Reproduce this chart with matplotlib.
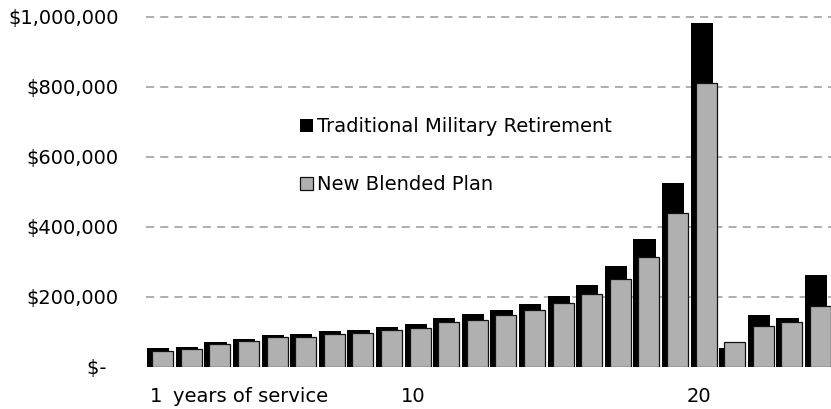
import numpy as np
import matplotlib
matplotlib.use("Agg")
import matplotlib.pyplot as plt
from matplotlib.patches import Patch
from matplotlib.ticker import FuncFormatter

# lump-sum value by year of service, in dollars
years = np.arange(1, 25)
traditional = [52600, 57000, 70600, 79000, 90600, 93000, 102000, 105000,
               113000, 122000, 138000, 150000, 162000, 179000, 203000, 234000,
               288000, 364000, 524000, 983000, 54000, 147000, 138000, 262000]
blended = [45700, 51000, 65000, 73000, 84000, 86000, 93000, 97000,
           105000, 111000, 128000, 133000, 147000, 161000, 182000, 207000,
           251000, 314000, 439000, 810000, 70000, 117000, 129000, 173000]
ytick_vals = [0, 200000, 400000, 600000, 800000, 1000000]
xtick_vals = [1, 10, 20]
xtick_labels = ["1", "10", "20"]
legend_labels = ["Traditional Military Retirement", "New Blended Plan"]

W, H = 831, 409
fig = plt.figure(figsize=(W / 100, H / 100), dpi=100)
ax_left, ax_bottom, ax_top = 146.4, 366.7, 5.0
ax = fig.add_axes([ax_left / W, (H - ax_bottom) / H, (W - ax_left) / W,
                   (ax_bottom - ax_top) / H])

step = 28.6  # px per category
ax.set_xlim(0.5, 0.5 + (W - ax_left) / step)
ax.set_ylim(0, (ax_bottom - ax_top) / 350 * 1e6)

ax.bar(years - 0.084, traditional, width=0.77, color="black",
       linewidth=0, zorder=2)
ax.bar(years + 0.073, blended, width=0.735, color="#b0b0b0",
       edgecolor="#111111", linewidth=0.9, zorder=3)

for v in ytick_vals[1:]:
    ax.axhline(v, color="#999999", linewidth=1.1, dashes=(5.3, 4.0),
               zorder=1)


def money(v, pos):
    if v == 0:
        return "$-  "
    return "${:,.0f}".format(v)


ax.set_yticks(ytick_vals)
ax.yaxis.set_major_formatter(FuncFormatter(money))
# category labels sit a little left of the bar pair
ax.set_xticks(np.array(xtick_vals) - 0.17)
ax.set_xticklabels(xtick_labels)
ax.tick_params(axis="both", length=0, labelsize=14, colors="black")
ax.tick_params(axis="y", pad=20)
ax.tick_params(axis="x", pad=14.4)
for s in ax.spines.values():
    s.set_visible(False)

ax.text(1.44, -0.0968, "years of service", fontsize=14,
        transform=ax.get_xaxis_transform(), ha="left", va="baseline")

handles = [Patch(facecolor="black", edgecolor="black", linewidth=0),
           Patch(facecolor="#b0b0b0", edgecolor="#111111", linewidth=0.9)]
fig.legend(handles, legend_labels, loc="upper left",
           bbox_to_anchor=(300 / W, 1 - 117.5 / H), frameon=False,
           fontsize=14, handlelength=0.67, handleheight=0.67,
           handletextpad=0.2, labelspacing=1.98, borderpad=0,
           borderaxespad=0)

fig.savefig("out.png", dpi=100)
